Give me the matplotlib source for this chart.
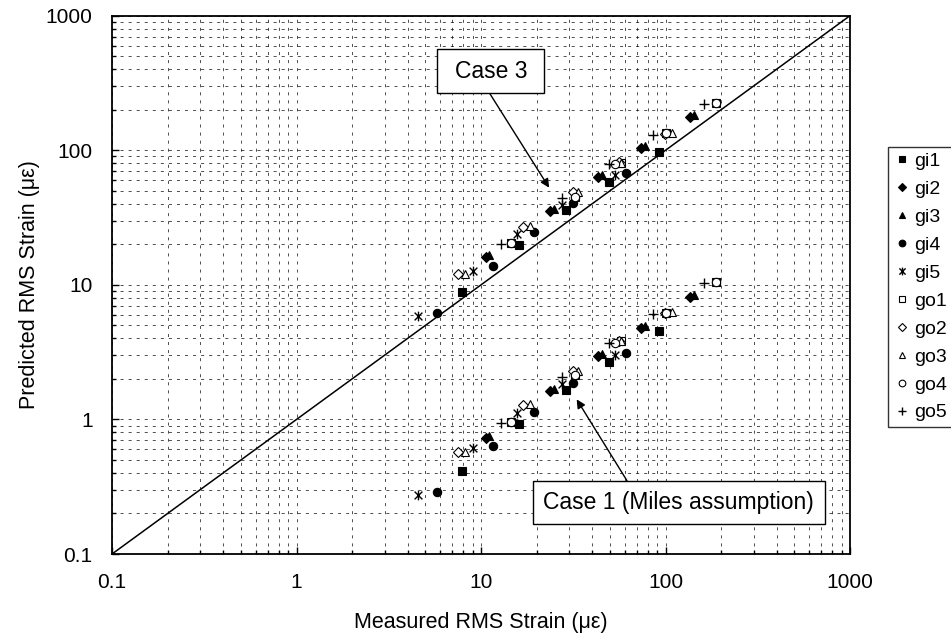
import matplotlib
matplotlib.use('Agg')
import matplotlib.pyplot as plt
from matplotlib.path import Path
from matplotlib.patches import Rectangle

plt.rcParams['font.family'] = ['Liberation Sans', 'DejaVu Sans']
plt.rcParams['lines.scale_dashes'] = False

# axis ticks
tick_vals = [0.1, 1, 10, 100, 1000]
tick_labels = ['0.1', '1', '10', '100', '1000']
diag = [0.1, 1000]

# measured strain and predicted strain (case 3 / case 1) for each gauge
gi1_x = [7.9, 16.1, 28.8, 49.6, 92.5]
gi1_c3 = [8.9, 19.9, 36.0, 57.9, 97.6]
gi1_c1 = [0.417, 0.927, 1.66, 2.69, 4.57]

gi2_x = [10.6, 23.7, 43.0, 73.4, 135.8]
gi2_c3 = [16.0, 35.4, 63.6, 103.5, 175.9]
gi2_c1 = [0.733, 1.63, 2.96, 4.81, 8.09]

gi3_x = [11.1, 24.8, 45.0, 77.0, 142.5]
gi3_c3 = [16.6, 36.6, 65.8, 107.0, 182.0]
gi3_c1 = [0.758, 1.69, 3.06, 4.97, 8.37]

gi4_x = [5.75, 11.6, 19.4, 31.6, 60.9]
gi4_c3 = [6.15, 13.7, 24.9, 40.8, 67.5]
gi4_c1 = [0.288, 0.635, 1.14, 1.88, 3.14]

gi5_x = [4.54, 9.0, 15.7, 27.6, 53.2]
gi5_c3 = [5.87, 12.7, 23.8, 39.2, 65.6]
gi5_c1 = [0.275, 0.611, 1.11, 1.84, 3.01]

go1_x = [14.5, 32.3, 57.2, 100.3, 187.0]
go1_c3 = [20.6, 45.2, 80.9, 133.6, 223.0]
go1_c1 = [0.963, 2.14, 3.85, 6.21, 10.45]

go2_x = [7.55, 16.9, 31.4, 56.0, 99.0]
go2_c3 = [12.05, 26.8, 48.7, 81.5, 133.0]
go2_c1 = [0.571, 1.27, 2.29, 3.85, 6.2]

go3_x = [8.2, 18.4, 33.4, 57.2, 108.9]
go3_c3 = [12.1, 27.5, 49.2, 80.9, 133.6]
go3_c1 = [0.576, 1.30, 2.29, 3.85, 6.32]

go4_x = [14.5, 32.3, 53.2, 100.3, 187.0]
go4_c3 = [20.6, 45.2, 79.1, 133.6, 223.0]
go4_c1 = [0.963, 2.14, 3.72, 6.21, 10.45]

go5_x = [12.8, 27.6, 49.6, 85.9, 161.7]
go5_c3 = [20.0, 44.0, 79.1, 130.0, 219.7]
go5_c1 = [0.937, 2.08, 3.72, 6.08, 10.3]

# excel style star: x with a vertical bar
M, L = Path.MOVETO, Path.LINETO
star = Path([(-1, -1), (1, 1), (-1, 1), (1, -1), (0, -1.25), (0, 1.25)],
            [M, L, M, L, M, L])

series = [
    ('gi1', gi1_x, gi1_c3, gi1_c1, dict(marker='s', ms=5.5, mfc='black')),
    ('gi2', gi2_x, gi2_c3, gi2_c1, dict(marker='D', ms=4.6, mfc='black')),
    ('gi3', gi3_x, gi3_c3, gi3_c1, dict(marker='^', ms=6, mfc='black')),
    ('gi4', gi4_x, gi4_c3, gi4_c1, dict(marker='o', ms=6, mfc='black')),
    ('gi5', gi5_x, gi5_c3, gi5_c1, dict(marker=star, ms=7, mew=1.0)),
    ('go1', go1_x, go1_c3, go1_c1, dict(marker='s', ms=5.5, mfc='white')),
    ('go2', go2_x, go2_c3, go2_c1, dict(marker='D', ms=4.6, mfc='white')),
    ('go3', go3_x, go3_c3, go3_c1, dict(marker='^', ms=6, mfc='white')),
    ('go4', go4_x, go4_c3, go4_c1, dict(marker='o', ms=6, mfc='white')),
    ('go5', go5_x, go5_c3, go5_c1, dict(marker='+', ms=7.5, mew=1.0)),
]

fig = plt.figure(figsize=(9.51, 6.43), dpi=100)
ax = fig.add_axes([0.1178, 0.1384, 0.776, 0.8372])
ax.set_xscale('log')
ax.set_yscale('log')

ax.plot(diag, diag, color='black', lw=1.1, zorder=3)

for name, x, c3, c1, style in series:
    kw = dict(linestyle='none', color='black', mec='black', mew=style.pop('mew', 0.8), zorder=4)
    kw.update(style)
    ax.plot(x, c3, label=name, **kw)
    ax.plot(x, c1, **kw)

ax.set_xlim(0.1, 1000)
ax.set_ylim(0.1, 1000)
ax.set_xticks(tick_vals)
ax.set_xticklabels(tick_labels)
ax.set_yticks(tick_vals)
ax.set_yticklabels(tick_labels)
ax.tick_params(which='both', direction='in', top=False, right=False, width=1.0)
ax.tick_params(which='major', length=5, labelsize=15)
ax.tick_params(axis='x', which='major', pad=14)
ax.tick_params(axis='y', which='major', pad=14)
ax.tick_params(which='minor', length=3, labelleft=False, labelbottom=False)
for s in ax.spines.values():
    s.set_linewidth(1.3)

ax.grid(which='both', color='black', linestyle=(0, (2.2, 3.6)), linewidth=0.6, alpha=0.8)
ax.set_axisbelow(True)

ax.set_xlabel('Measured RMS Strain (\u03bc\u03b5)', fontsize=15.5)
ax.set_ylabel('Predicted RMS Strain (\u03bc\u03b5)', fontsize=15.5)
ax.xaxis.set_label_coords(0.5, -0.108)
ax.yaxis.set_label_coords(-0.098, 0.5)

# callout boxes
ax.add_patch(Rectangle((0.4408, 0.8558), 0.145, 0.0818, transform=ax.transAxes,
                       fc='white', ec='black', lw=1.0, zorder=5))
ax.text(0.5133, 0.8967, 'Case 3', transform=ax.transAxes, fontsize=16.5,
        ha='center', va='center', zorder=6)
ax.annotate('', xy=(23.4, 52.7), xycoords='data',
            xytext=(0.5122, 0.8547), textcoords='axes fraction',
            arrowprops=dict(arrowstyle='-|>', color='black', lw=1.0,
                            mutation_scale=13, shrinkA=0, shrinkB=0), zorder=6)

ax.add_patch(Rectangle((0.5701, 0.0557), 0.396, 0.0799, transform=ax.transAxes,
                       fc='white', ec='black', lw=1.0, zorder=5))
ax.text(0.7681, 0.0957, 'Case 1 (Miles assumption)', transform=ax.transAxes,
        fontsize=16.5, ha='center', va='center', zorder=6)
ax.annotate('', xy=(33.0, 1.41), xycoords='data',
            xytext=(0.6978, 0.1362), textcoords='axes fraction',
            arrowprops=dict(arrowstyle='-|>', color='black', lw=1.0,
                            mutation_scale=13, shrinkA=0, shrinkB=0), zorder=6)

leg = fig.legend(loc='upper left', bbox_to_anchor=(0.9338, 0.7718),
                 bbox_transform=fig.transFigure, borderaxespad=0,
                 fontsize=14, frameon=True, fancybox=False, edgecolor='black',
                 handlelength=0.8, handletextpad=0.25, borderpad=0.3,
                 labelspacing=0.53, markerscale=0.8)
leg.get_frame().set_linewidth(1.0)

fig.savefig('out.png', dpi=100)
